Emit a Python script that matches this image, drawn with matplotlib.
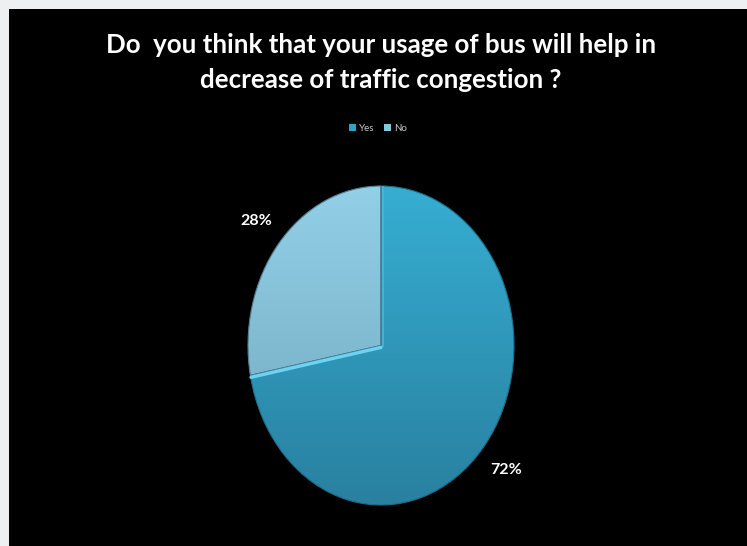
import numpy as np
import matplotlib
matplotlib.use("Agg")
import matplotlib.pyplot as plt
from matplotlib.colors import LinearSegmentedColormap
from matplotlib.patches import Rectangle

# Survey answers
categories = ["Yes", "No"]
shares = [72, 28]
title_lines = ["Do  you think that your usage of bus will help in",
               "decrease of traffic congestion ?"]

W, H = 747, 546
fig = plt.figure(figsize=(W / 100, H / 100), dpi=100)
fig.patch.set_facecolor("#eeeff1")

# black slide area
fig.patches.append(Rectangle((9 / W, 0), 1 - 9 / W, 1 - 9 / H,
                             transform=fig.transFigure, facecolor="black",
                             edgecolor="none", zorder=-5))

font = "Lato"
fig.text(381 / W, 1 - 45 / H, title_lines[0], ha="center", va="center",
         color="white", fontsize=18.6, fontweight="bold", family=font)
fig.text(381 / W, 1 - 80 / H, title_lines[1], ha="center", va="center",
         color="white", fontsize=18.6, fontweight="bold", family=font)

# pie axes: the unit circle fills the elliptical pie area
left, right, top, bottom = 248, 514, 186, 505
ax = fig.add_axes([left / W, 1 - bottom / H, (right - left) / W, (bottom - top) / H])
ax.set_facecolor("none")

base_colors = ["#30a2c6", "#86c6de"]
wedges, texts, autotexts = ax.pie(
    shares, startangle=90, counterclock=False, colors=base_colors,
    autopct="%.0f%%", pctdistance=1.22,
    wedgeprops=dict(linewidth=0),
    textprops=dict(color="white", fontsize=11.5, fontweight="bold", family=font))
ax.set_aspect("auto")
ax.set_xlim(-1, 1)
ax.set_ylim(-1, 1)
ax.axis("off")
for t in autotexts:
    t.set_clip_on(False)

# vertical gradient fill for each slice
grads = [("#36aed2", "#2980a0"), ("#92d0e8", "#70a6ba")]
g = np.linspace(1, 0, 256).reshape(-1, 1)
for w, (c_top, c_bot) in zip(wedges, grads):
    cmap = LinearSegmentedColormap.from_list("g", [c_bot, c_top])
    im = ax.imshow(g, extent=(-1, 1, -1, 1), cmap=cmap, aspect="auto",
                   origin="upper", vmin=0, vmax=1, zorder=1.5)
    im.set_clip_path(w)

# subtle outlines
wedges[0].set_edgecolor("#1d6f8a")
wedges[0].set_linewidth(0.8)
wedges[0].set_facecolor("none")
wedges[0].set_zorder(2)
wedges[1].set_edgecolor("#4f7f91")
wedges[1].set_linewidth(0.8)
wedges[1].set_facecolor("none")
wedges[1].set_zorder(2)

# bevel highlight on the Yes slice along its lower radial edge
end_deg = 90 + 360 * shares[1] / sum(shares)
th = np.deg2rad(end_deg)
ax.plot([0.0, np.cos(th) * 0.995], [-0.012, np.sin(th) - 0.012],
        color="#6cd4f2", lw=2.4, solid_capstyle="round", zorder=2.5)
ax.plot([0.012, 0.012], [0.0, 0.995], color="#45b8dc", lw=1.2, zorder=2.5)

# legend
handles = [Rectangle((0, 0), 1, 1, facecolor=c, edgecolor="none") for c in base_colors]
leg = fig.legend(handles, categories, loc="center", bbox_to_anchor=(378 / W, 1 - 128 / H),
                 ncol=2, frameon=False, labelcolor="#c8c8c8",
                 handlelength=0.7, handleheight=0.7, handletextpad=0.3,
                 columnspacing=1.0, prop=dict(family=font, size=7))

fig.savefig("out.png", dpi=100, facecolor=fig.get_facecolor())
